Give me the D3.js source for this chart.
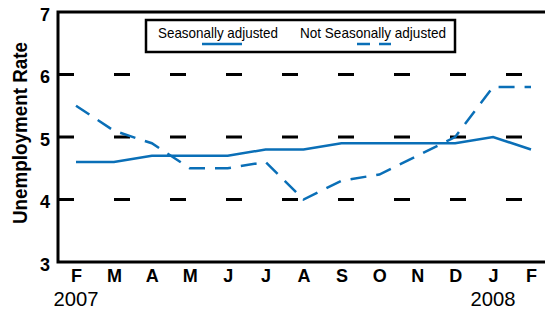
<!DOCTYPE html>
<html>
<head>
<meta charset="utf-8">
<script src="https://cdn.jsdelivr.net/npm/d3@7"></script>
<style>
  body { margin: 0; background: #fff; }
  text { font-family: "Liberation Sans", Arial, sans-serif; fill: #000; }
</style>
</head>
<body>
<script>
// months along the bottom, Feb 2007 .. Feb 2008
var months = ["F", "M", "A", "M", "J", "J", "A", "S", "O", "N", "D", "J", "F"];
var years = [{label: "2007", idx: 0}, {label: "2008", idx: 11}];
var seasonal = [4.6, 4.6, 4.7, 4.7, 4.7, 4.8, 4.8, 4.9, 4.9, 4.9, 4.9, 5.0, 4.8];
var notSeasonal = [5.5, 5.1, 4.9, 4.5, 4.5, 4.6, 4.0, 4.3, 4.4, 4.7, 5.0, 5.8, 5.8];
var yTicks = [3, 4, 5, 6, 7];
var yGrid = [4, 5, 6];

(function() {
var W = 545, H = 310;
var mLeft = 58, mTop = 12, mBottom = 262, mRight = 545;
var blue = "#0a6fb7";

var svg = d3.select("body").append("svg")
    .attr("width", W)
    .attr("height", H);

var x = d3.scaleLinear().domain([0, months.length - 1]).range([76, 531]);
var y = d3.scaleLinear().domain([3, 7]).range([mBottom, mTop]);

// dashed grid lines
svg.append("g").selectAll("line")
    .data(yGrid)
    .enter()
    .append("line")
    .attr("x1", mLeft)
    .attr("x2", mRight)
    .attr("y1", function(d) { return y(d); })
    .attr("y2", function(d) { return y(d); })
    .style("stroke", "#000")
    .style("stroke-width", 3)
    .style("stroke-dasharray", "16,40");

// frame: top, left, bottom
svg.append("path")
    .attr("d", "M" + mRight + "," + mTop + "H" + mLeft + "V" + mBottom + "H" + mRight)
    .style("fill", "none")
    .style("stroke", "#000")
    .style("stroke-width", 3);

// y tick labels
var yAxis = d3.axisLeft(y).tickValues(yTicks).tickSize(0).tickPadding(8)
    .tickFormat(d3.format("d"));
var gy = svg.append("g")
    .attr("transform", "translate(" + mLeft + ",0)")
    .call(yAxis);
gy.select(".domain").remove();
gy.selectAll("text")
    .attr("dy", "0.45em")
    .style("font-size", "18px")
    .style("font-weight", "bold");
gy.attr("font-family", null).attr("font-size", null);

// month labels
var xAxis = d3.axisBottom(x).tickValues(d3.range(months.length))
    .tickSize(0).tickPadding(7)
    .tickFormat(function(d) { return months[d]; });
var gx = svg.append("g")
    .attr("transform", "translate(0," + mBottom + ")")
    .call(xAxis);
gx.select(".domain").remove();
gx.selectAll("text")
    .style("font-size", "18px")
    .style("font-weight", "bold");
gx.attr("font-family", null).attr("font-size", null);

// year labels
svg.append("g").selectAll("text")
    .data(years)
    .enter()
    .append("text")
    .attr("x", function(d) { return x(d.idx); })
    .attr("y", 306)
    .attr("text-anchor", "middle")
    .attr("textLength", 45)
    .attr("lengthAdjust", "spacingAndGlyphs")
    .style("font-size", "21px")
    .text(function(d) { return d.label; });

// axis title
svg.append("text")
    .attr("transform", "translate(27,133) rotate(-90)")
    .attr("text-anchor", "middle")
    .attr("textLength", 182)
    .attr("lengthAdjust", "spacingAndGlyphs")
    .style("font-size", "21px")
    .style("font-weight", "bold")
    .text("Unemployment Rate");

var line = d3.line()
    .x(function(d, i) { return x(i); })
    .y(function(d) { return y(d); });

svg.append("path")
    .datum(notSeasonal)
    .attr("d", line)
    .style("fill", "none")
    .style("stroke", blue)
    .style("stroke-width", 2.5)
    .style("stroke-dasharray", "16,10");

svg.append("path")
    .datum(seasonal)
    .attr("d", line)
    .style("fill", "none")
    .style("stroke", blue)
    .style("stroke-width", 2.5);

// legend
var legend = svg.append("g");
legend.append("rect")
    .attr("x", 146)
    .attr("y", 20)
    .attr("width", 309)
    .attr("height", 32)
    .style("fill", "#fff")
    .style("stroke", "#000")
    .style("stroke-width", 2.5);
legend.append("text")
    .attr("x", 158)
    .attr("y", 38)
    .attr("textLength", 120)
    .attr("lengthAdjust", "spacingAndGlyphs")
    .style("font-size", "15px")
    .text("Seasonally adjusted");
legend.append("line")
    .attr("x1", 202).attr("x2", 242)
    .attr("y1", 44).attr("y2", 44)
    .style("stroke", blue)
    .style("stroke-width", 2.5);
legend.append("text")
    .attr("x", 300)
    .attr("y", 38)
    .attr("textLength", 146)
    .attr("lengthAdjust", "spacingAndGlyphs")
    .style("font-size", "15px")
    .text("Not Seasonally adjusted");
legend.append("line")
    .attr("x1", 357).attr("x2", 391)
    .attr("y1", 44).attr("y2", 44)
    .style("stroke", blue)
    .style("stroke-width", 2.5)
    .style("stroke-dasharray", "13,9");
})();
</script>
</body>
</html>
